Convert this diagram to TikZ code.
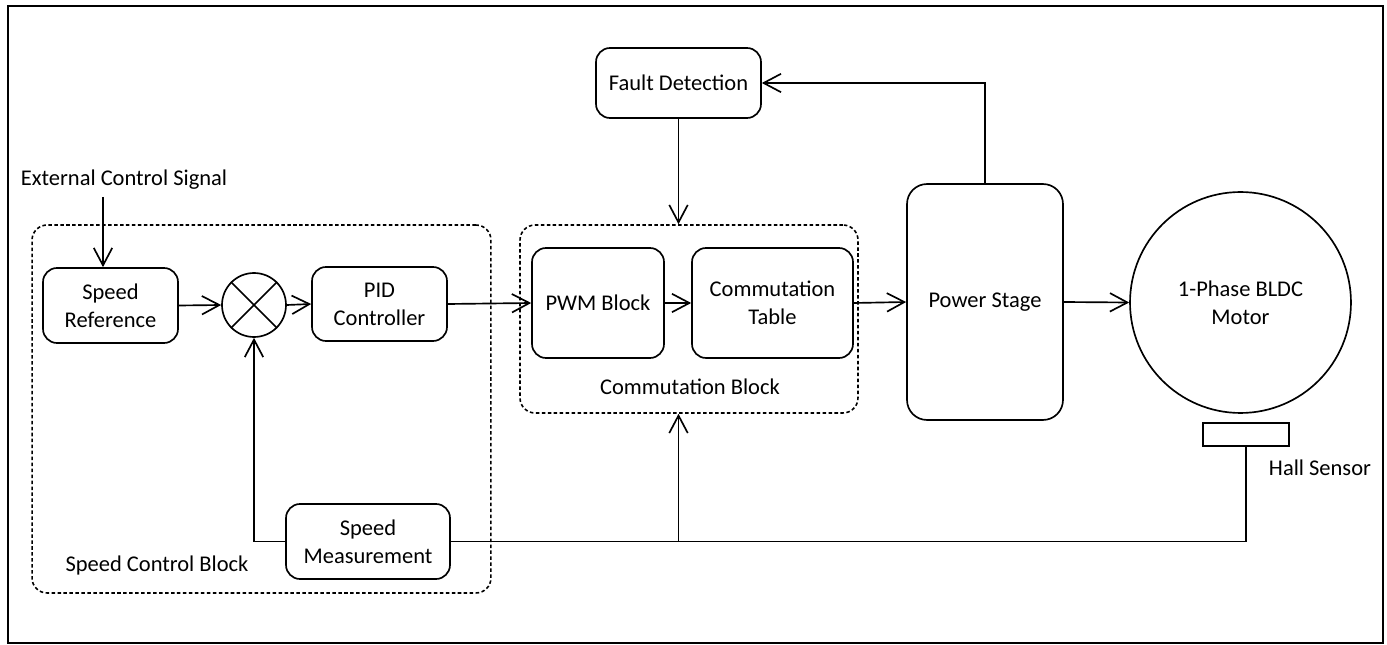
\documentclass[tikz,border=0pt]{standalone}
\usepackage{fontspec}
\setmainfont{Carlito}
\usetikzlibrary{arrows.meta}

\tikzset{
  blk/.style={draw, line width=0.95pt, rounded corners=0.28cm, align=center, inner sep=0pt},
  grp/.style={draw, line width=0.9pt, dash pattern=on 2pt off 1.4pt, rounded corners=0.3cm, inner sep=0pt},
  sig/.style={line width=0.95pt, -{Straight Barb[length=3.5mm,width=3.7mm]}},
  wire/.style={line width=0.95pt},
}

\begin{document}
\begin{tikzpicture}[x=0.02cm, y=-0.02cm, font=\fontsize{12.8}{15.8}\selectfont]
\useasboundingbox (0,0) rectangle (1387,645);
\draw [line width=1.3pt] (8,6) rectangle (1383,643);

% dashed groups
\node [grp, minimum width=9.18cm, minimum height=7.36cm] (scb) at (261.5,409) {};
\node [grp, minimum width=6.76cm, minimum height=3.76cm] (cmb) at (689,319) {};

% blocks
\node [blk, minimum width=2.7cm, minimum height=1.5cm] (ref) at (110.5,305.5) {Speed\\Reference};
\node [draw, circle, line width=0.95pt, minimum size=1.28cm, inner sep=0pt] (sum) at (254,305) {};
\draw [wire] (sum.north west) -- (sum.south east);
\draw [wire] (sum.north east) -- (sum.south west);
\node [blk, minimum width=2.7cm, minimum height=1.48cm] (pid) at (379.5,304) {PID\\Controller};
\node [blk, minimum width=2.64cm, minimum height=2.2cm] (pwm) at (598,303) {PWM Block};
\node [blk, minimum width=3.22cm, minimum height=2.2cm] (tab) at (772.5,303) {Commutation\\Table};
\node [blk, minimum width=3.3cm, minimum height=1.4cm] (fault) at (678.5,83) {Fault Detection};
\node [blk, rounded corners=0.4cm, minimum width=3.12cm, minimum height=4.72cm] (pow) at (985,302) {Power Stage};
\node [draw, circle, line width=0.95pt, minimum size=4.42cm, inner sep=0pt, align=center] (motor) at (1240.5,302.5) {1-Phase BLDC\\Motor};
\node [draw, line width=0.95pt, minimum width=1.72cm, minimum height=0.46cm, inner sep=0pt] (hall) at (1246,434.5) {};
\node [blk, minimum width=3.28cm, minimum height=1.5cm] (meas) at (368,541.5) {Speed\\Measurement};

% labels
\node (ext) at (124,180) {External Control Signal};
\node (hall label) at (1320,468) {Hall Sensor};
\node (scb label) at (157,566) {Speed Control Block};
\node (cmb label) at (690,387) {Commutation Block};

% connectors
\coordinate (ext in) at (103,197);
\coordinate (tap) at (fault |- meas.east);
\draw [sig] (ext in) -- (ext in |- ref.north);
\draw [sig] (ref.east) -- (sum.west);
\draw [sig] (sum.east) -- (pid.west);
\draw [sig] (pid.east) -- (pwm.west);
\draw [sig] (pwm.east) -- (tab.west);
\draw [sig] (tab.east) -- (pow.west);
\draw [sig] (pow.east) -- (motor.west);
\draw [sig] (pow.north) |- (fault.east);
\draw [sig] (fault.south) -- (fault |- cmb.north);
\draw [wire] (hall.south) |- (meas.east);
\draw [sig] (meas.west) -| (sum.south);
\draw [sig] (tap) -- (fault |- cmb.south);
\end{tikzpicture}
\end{document}
